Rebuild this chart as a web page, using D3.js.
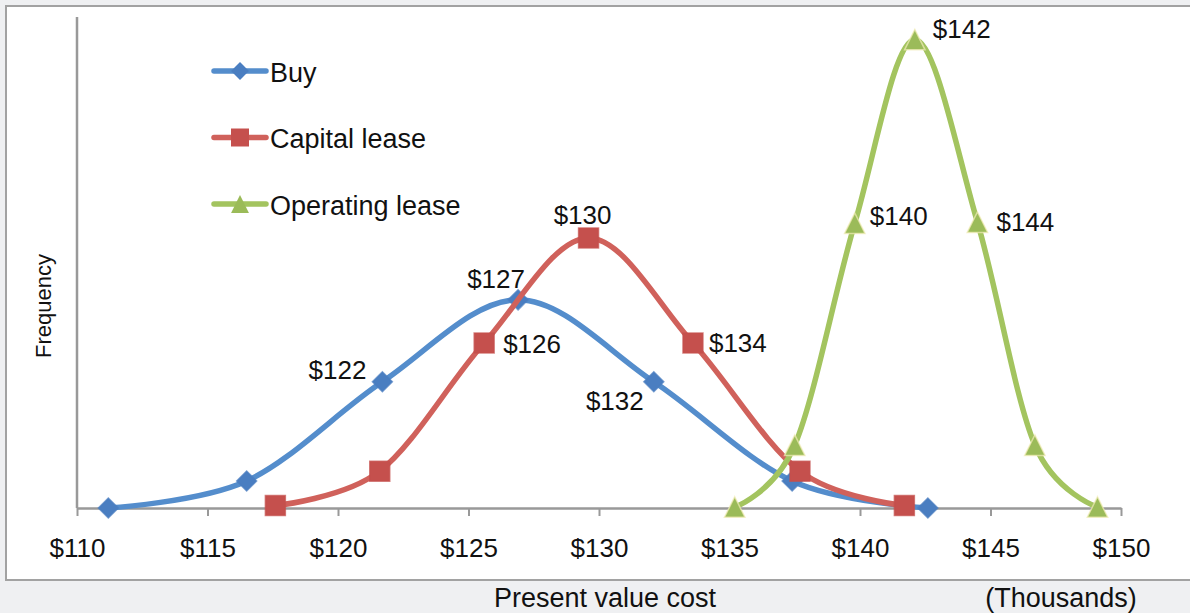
<!DOCTYPE html>
<html>
<head>
<meta charset="utf-8">
<script src="https://cdn.jsdelivr.net/npm/d3@7"></script>
<style>
  body { margin: 0; background: #eff0f2; }
  text { font-family: "Liberation Sans", Arial, sans-serif; fill: #111; }
</style>
</head>
<body>
<svg id="chart"></svg>
<script>
// present value cost (thousands) and relative frequency
const buyCost = [111.2, 116.5, 121.7, 126.9, 132.1, 137.4, 142.6];
const buyFreq = [0, 5.5, 25.7, 42.4, 25.7, 5.5, 0];
const buyLabels = [null, null, "$122", "$127", "$132", null, null];

const capitalCost = [117.6, 121.6, 125.6, 129.6, 133.6, 137.7, 141.7];
const capitalFreq = [0.5, 7.5, 33.6, 55.0, 33.6, 7.5, 0.5];
const capitalLabels = [null, null, "$126", "$130", "$134", null, null];

const operatingCost = [135.2, 137.5, 139.8, 142.1, 144.5, 146.7, 149.1];
const operatingFreq = [0.2, 12.8, 58.0, 95.4, 58.2, 12.8, 0.2];
const operatingLabels = [null, null, "$140", "$142", "$144", null, null];

const seriesNames = ["Buy", "Capital lease", "Operating lease"];
const xTicks = [110, 115, 120, 125, 130, 135, 140, 145, 150];

const W = 1190, H = 613;
const svg = d3.select("#chart").attr("width", W).attr("height", H);

// triangle with equal width and height, like the spreadsheet marker
const symbolTri = {
    draw(ctx, size) {
        let s = Math.sqrt(size) / 2;
        ctx.moveTo(0, -s); ctx.lineTo(s, s); ctx.lineTo(-s, s); ctx.closePath();
    }
};

const series = [
    { name: seriesNames[0], x: buyCost, y: buyFreq, labels: buyLabels,
      line: "#548dcc", fill: "#4a7ec1", symbol: d3.symbolSquare, size: 200, rot: 45, legendSize: 160 },
    { name: seriesNames[1], x: capitalCost, y: capitalFreq, labels: capitalLabels,
      line: "#d0615b", fill: "#c5504d", symbol: d3.symbolSquare, size: 400, rot: 0, legendSize: 324 },
    { name: seriesNames[2], x: operatingCost, y: operatingFreq, labels: operatingLabels,
      line: "#a3c45f", fill: "#9bbb59", symbol: symbolTri, size: 420, rot: 0, legendSize: 320 }
];

// label placement: anchor, dx, dy (baseline) relative to the point
const labelPos = {
    "$122": ["end", -16, -3], "$127": ["middle", -22, -12], "$132": ["middle", -39, 28],
    "$126": ["start", 19, 10], "$130": ["middle", -6, -14], "$134": ["start", 16, 9],
    "$140": ["start", 15, 2], "$142": ["start", 18, -2], "$144": ["start", 19, 9]
};

// chart box
svg.append("rect").attr("x", 0).attr("y", 0).attr("width", W).attr("height", H).attr("fill", "#eff0f2");
svg.append("rect").attr("x", 6).attr("y", 6).attr("width", W + 10).attr("height", 574)
    .attr("fill", "#fff").attr("stroke", "#a2a2a2").attr("stroke-width", 2);

const x = d3.scaleLinear().domain([110, 150]).range([77, 1121]);
const y = d3.scaleLinear().domain([0, 100]).range([508, 17]);

// y axis (no ticks)
svg.append("line").attr("x1", 77).attr("x2", 77).attr("y1", y(100)).attr("y2", y(0))
    .attr("stroke", "#999").attr("stroke-width", 2.5);

const xAxis = svg.append("g").attr("transform", "translate(0," + y(0) + ")")
    .call(d3.axisBottom(x).tickValues(xTicks).tickSizeInner(8).tickSizeOuter(0)
        .tickFormat(d => "$" + d));
xAxis.select(".domain").attr("stroke", "#999").attr("stroke-width", 2.5);
xAxis.selectAll(".tick line").attr("stroke", "#999").attr("stroke-width", 2);
xAxis.selectAll(".tick text").attr("y", 49).attr("dy", 0)
    .style("font-family", "'Liberation Sans', Arial, sans-serif").style("font-size", "26px").attr("fill", "#111");

// axis titles
svg.append("text").attr("transform", "translate(51,306) rotate(-90)")
    .attr("text-anchor", "middle").style("font-size", "22px").text("Frequency");
svg.append("text").attr("x", 605).attr("y", 607).attr("text-anchor", "middle")
    .style("font-size", "27px").attr("fill", "#222").text("Present value cost");
svg.append("text").attr("x", 1061).attr("y", 607).attr("text-anchor", "middle")
    .style("font-size", "27px").attr("fill", "#222").text("(Thousands)");

const line = d3.line().x(d => x(d[0])).y(d => y(d[1])).curve(d3.curveCardinal);

series.forEach(function (s) {
    let pts = s.x.map((v, i) => [v, s.y[i]]);
    let g = svg.append("g");
    g.append("path").attr("d", line(pts)).attr("fill", "none")
        .attr("stroke", s.line).attr("stroke-width", 5.5).attr("stroke-linejoin", "round");
    g.selectAll("path.mark").data(pts).enter().append("path").attr("class", "mark")
        .attr("d", d3.symbol().type(s.symbol).size(s.size))
        .attr("transform", d => "translate(" + x(d[0]) + "," + y(d[1]) + ") rotate(" + s.rot + ")")
        .attr("fill", s.fill)
        .attr("stroke", s.symbol === symbolTri ? "#f2ecb8" : s.fill)
        .attr("stroke-opacity", 0.7).attr("stroke-width", 1.5);
});

// data labels on top
series.forEach(function (s) {
    s.labels.forEach(function (lab, i) {
        if (!lab) return;
        let p = labelPos[lab];
        svg.append("text").attr("x", x(s.x[i]) + p[1]).attr("y", y(s.y[i]) + p[2])
            .attr("text-anchor", p[0]).style("font-size", "26px").text(lab);
    });
});

// legend
const legend = svg.append("g");
series.forEach(function (s, i) {
    let ly = 71 + i * 66.5;
    let g = legend.append("g").attr("transform", "translate(0," + ly + ")");
    g.append("line").attr("x1", 214).attr("x2", 266).attr("y1", 0).attr("y2", 0)
        .attr("stroke", s.line).attr("stroke-width", 5.5).attr("stroke-linecap", "round");
    g.append("path").attr("d", d3.symbol().type(s.symbol).size(s.legendSize))
        .attr("transform", "translate(240,0) rotate(" + s.rot + ")").attr("fill", s.fill);
    g.append("text").attr("x", 270).attr("y", 10.5).style("font-size", "27px").text(s.name);
});
</script>
</body>
</html>
